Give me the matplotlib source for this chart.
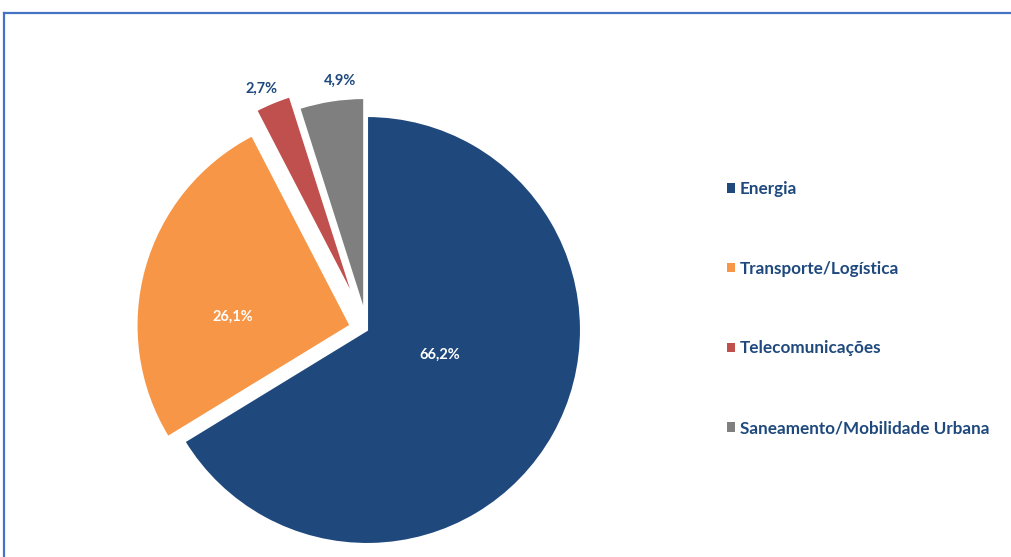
import numpy as np
import matplotlib.pyplot as plt
from matplotlib.lines import Line2D

plt.rcParams['font.family'] = ['Lato', 'DejaVu Sans']
plt.rcParams['font.weight'] = 'bold'

# dados
setores = ['Energia', 'Transporte/Logística', 'Telecomunicações',
           'Saneamento/Mobilidade Urbana']
valores = [66.2, 26.1, 2.7, 4.9]
rotulos = ['66,2%', '26,1%', '2,7%', '4,9%']
cores = ['#1F497D', '#F79646', '#C0504D', '#7F7F7F']
explode = [0, 0.08, 0.15, 0.085]

W, H = 1011, 557
fig = plt.figure(figsize=(W / 100, H / 100), dpi=100)
ax = fig.add_axes([0, 0, 1, 1])
ax.set_xlim(0, W)
ax.set_ylim(0, H)
ax.set_aspect('equal')
ax.axis('off')

R = 214
cx, cy = 367, H - 330
# explode no pie e em unidades absolutas -> escala pelo raio
wedges, _ = ax.pie(valores, colors=cores, startangle=90, counterclock=False,
                   explode=[e * R for e in explode], radius=R, center=(cx, cy),
                   wedgeprops=dict(edgecolor='white', linewidth=1.5))
ax.set_xlim(0, W)
ax.set_ylim(0, H)

# posicao dos rotulos (pixels)
pos_rotulos = [(440, 355), (233, 317), (262, 89), (340, 81)]
cor_rot = ['white', 'white', '#1F497D', '#1F497D']
for txt, (px, py), c in zip(rotulos, pos_rotulos, cor_rot):
    ax.text(px, H - py, txt, color=c, fontsize=10.5, fontweight='bold',
            ha='center', va='center')

leg = ax.legend(wedges, setores, loc='upper left',
                bbox_to_anchor=(727 / W, 1 - 181 / H), frameon=False,
                fontsize=12.3, labelspacing=3.73, handlelength=0.45,
                handleheight=0.45, handletextpad=0.3, borderpad=0,
                borderaxespad=0)
for t in leg.get_texts():
    t.set_color('#1F497D')
    t.set_fontweight('bold')
for h in leg.legend_handles:
    h.set_edgecolor('none')

# moldura azul
fig.add_artist(Line2D([4 / W, 1], [1 - 12.5 / H, 1 - 12.5 / H],
                      transform=fig.transFigure, color='#4472C4', lw=1.6))
fig.add_artist(Line2D([4 / W, 4 / W], [0, 1 - 12.5 / H],
                      transform=fig.transFigure, color='#4472C4', lw=1.6))

fig.savefig('out.png', dpi=100)
